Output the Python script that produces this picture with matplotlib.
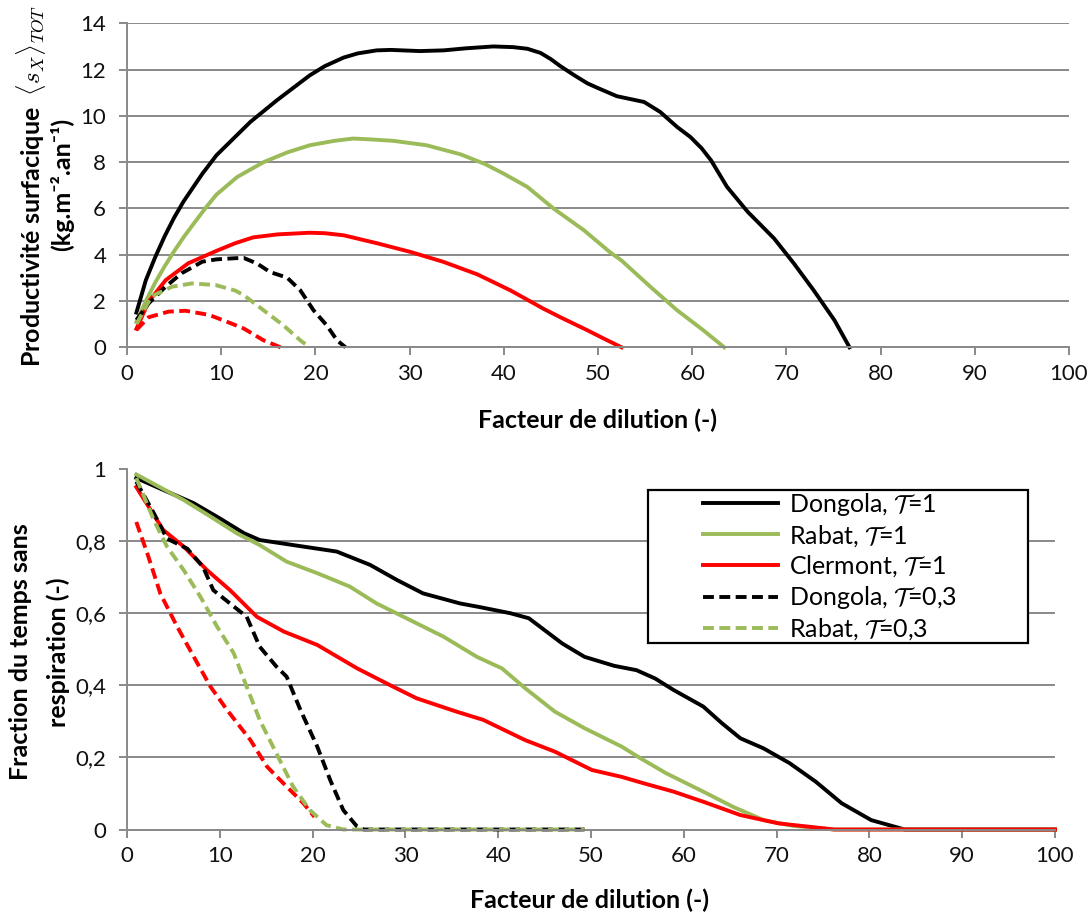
import matplotlib
matplotlib.use("Agg")
import matplotlib.pyplot as plt
from matplotlib.patches import Rectangle
from matplotlib.ticker import FuncFormatter

plt.rcParams['font.family'] = ['Lato', 'DejaVu Sans']
plt.rcParams['mathtext.fontset'] = 'cm'

BLACK = '#000000'
GREEN = '#9BBB59'
RED = '#FF0000'
GRID = '#898989'

# ---- top panel: surface productivity vs dilution factor ----
dong1_x = [1, 2, 3, 4, 5, 6, 7, 8, 9.5, 11, 13.1, 15.9, 19.4, 21, 23, 24.5, 26.5, 28, 31.1, 33.6, 36,
           38.9, 41, 42.5, 43.9, 45, 46, 47.5, 48.9, 50, 52, 54.9, 56.6, 58.4, 59.8, 61, 62, 63.7,
           65.9, 67, 68.7, 70.8, 72.9, 75.1, 76.7]
dong1_y = [1.5, 2.9, 3.9, 4.8, 5.6, 6.3, 6.9, 7.5, 8.3, 8.9, 9.74, 10.67, 11.75, 12.15, 12.52, 12.7,
           12.83, 12.85, 12.8, 12.83, 12.92, 13.0, 12.97, 12.9, 12.72, 12.45, 12.15, 11.75, 11.4, 11.2,
           10.85, 10.6, 10.17, 9.52, 9.09, 8.6, 8.08, 6.93, 5.85, 5.4, 4.7, 3.62, 2.46, 1.17, 0]

rab1_x = [1, 2, 3, 4, 5, 6, 7, 8.3, 9.5, 11.7, 14.5, 17, 19.4, 22, 24, 26, 28.3, 31.8, 35.4, 38, 40,
          42.5, 45.3, 48.5, 51.3, 52.5, 55.6, 58.4, 61.2, 63.4]
rab1_y = [1.1, 2.0, 2.8, 3.5, 4.15, 4.75, 5.3, 6.0, 6.6, 7.36, 8.0, 8.42, 8.73, 8.92, 9.02, 8.98, 8.92,
          8.73, 8.34, 7.92, 7.5, 6.93, 5.99, 5.06, 4.1, 3.75, 2.6, 1.6, 0.73, 0]

cler1_x = [1, 2.3, 4.1, 6.5, 9.4, 11.5, 13.4, 16, 19.4, 21, 23, 26.5, 30.1, 33.6, 37.2, 40.7, 44.2,
           46, 48.9, 50.5, 52.5]
cler1_y = [0.8, 1.97, 2.9, 3.63, 4.15, 4.5, 4.75, 4.88, 4.95, 4.93, 4.84, 4.5, 4.12, 3.69, 3.15, 2.46,
           1.67, 1.3, 0.73, 0.4, 0]

dong03_x = [1, 2.3, 4.1, 5.8, 8, 9.5, 11.5, 12.4, 13.8, 15.2, 17, 18.4, 19.8, 21.2, 22.3, 23.2]
dong03_y = [1.18, 1.9, 2.62, 3.2, 3.7, 3.8, 3.85, 3.86, 3.62, 3.25, 3.01, 2.46, 1.6, 0.95, 0.3, 0]

rab03_x = [1, 2.6, 4.8, 6.9, 9.4, 11.5, 12.4, 14.5, 16.6, 18.4, 19.4]
rab03_y = [1.0, 2.2, 2.62, 2.76, 2.69, 2.45, 2.25, 1.6, 0.95, 0.3, 0]

cler03_x = [1, 2.3, 4.4, 6.2, 8.7, 10.2, 11.5, 12.4, 14.5, 16.3]
cler03_y = [0.75, 1.3, 1.54, 1.58, 1.4, 1.17, 0.96, 0.81, 0.3, 0]

# ---- bottom panel: fraction of time without respiration ----
fdong1_x = [1, 3.9, 7.2, 10, 12.6, 14.3, 17.9, 22.6, 26.2, 29.1, 31.9, 35.9, 38, 41.3, 43.3, 46.9,
            49.3, 52.5, 54.9, 56.9, 58.9, 62.1, 64.1, 66.1, 68.6, 71.4, 74.2, 77, 80.2, 83.8, 100]
fdong1_y = [0.975, 0.942, 0.905, 0.863, 0.822, 0.803, 0.789, 0.771, 0.734, 0.692, 0.655, 0.627, 0.617,
            0.6, 0.586, 0.516, 0.479, 0.454, 0.442, 0.419, 0.387, 0.341, 0.295, 0.253, 0.225, 0.184,
            0.133, 0.073, 0.026, 0, 0]

frab1_x = [1, 6.1, 9, 11.8, 14.3, 17.2, 20.5, 24, 26.9, 30.5, 34.1, 37.7, 40.4, 42.9, 46.1, 49.3,
           53.3, 55.3, 58.1, 62.1, 65.3, 68.6, 71.8, 76.2, 100]
frab1_y = [0.985, 0.914, 0.868, 0.822, 0.789, 0.743, 0.711, 0.674, 0.627, 0.581, 0.535, 0.479, 0.447,
           0.392, 0.327, 0.281, 0.23, 0.198, 0.156, 0.105, 0.063, 0.026, 0.01, 0, 0]

fcler1_x = [1, 3.9, 6.1, 8.6, 11.1, 14, 16.9, 20.5, 24.8, 28.3, 31.2, 35.5, 38.4, 42.9, 46.1, 50.1,
            53.3, 55.7, 58.9, 62.1, 66.1, 70.2, 76.2, 100]
fcler1_y = [0.95, 0.831, 0.785, 0.72, 0.664, 0.59, 0.549, 0.512, 0.447, 0.401, 0.364, 0.327, 0.304,
            0.248, 0.216, 0.165, 0.146, 0.128, 0.105, 0.077, 0.04, 0.017, 0, 0]

fdong03_x = [1, 2.9, 4.3, 6.5, 8.2, 9.3, 11.1, 12.9, 14.3, 16.1, 17.2, 18.7, 20.5, 21.9, 23.3, 24.8,
             25.5, 49.3]
fdong03_y = [0.965, 0.877, 0.807, 0.779, 0.728, 0.664, 0.627, 0.59, 0.507, 0.452, 0.424, 0.331, 0.23,
             0.137, 0.054, 0.008, 0, 0]

frab03_x = [1, 2.9, 4.3, 6.1, 7.9, 9.7, 11.5, 12.9, 14.3, 16.1, 17.9, 19.7, 21.5, 23.3, 49.3]
frab03_y = [0.975, 0.858, 0.785, 0.72, 0.646, 0.563, 0.489, 0.396, 0.304, 0.211, 0.119, 0.054, 0.012,
            0, 0]

fcler03_x = [1, 2.2, 3.6, 5.4, 7.2, 9, 10.8, 13.3, 15.1, 17.2, 19, 20.2]
fcler03_y = [0.853, 0.765, 0.654, 0.563, 0.479, 0.396, 0.331, 0.248, 0.174, 0.119, 0.073, 0.035]

labels = [r'Dongola, $\mathcal{T}$=1', r'Rabat, $\mathcal{T}$=1', r'Clermont, $\mathcal{T}$=1',
          r'Dongola, $\mathcal{T}$=0,3', r'Rabat, $\mathcal{T}$=0,3']

LW = 2.8
DASH = (2.8, 1.4)
W, H = 1090, 913


def style_axes(ax, ymax, fmt):
    ax.set_xlim(0, 100)
    ax.set_ylim(0, ymax)
    ax.set_xticks(range(0, 101, 10))
    ax.yaxis.set_major_formatter(FuncFormatter(fmt))
    for s in ('top', 'right'):
        ax.spines[s].set_visible(False)
    for s in ('left', 'bottom'):
        ax.spines[s].set_color(GRID)
        ax.spines[s].set_linewidth(1.4)
    ax.tick_params(axis='both', colors=GRID, labelcolor='#111111', labelsize=16,
                   width=1.4, length=6, direction='out')
    ax.tick_params(axis='y', pad=9)
    ax.tick_params(axis='x', pad=6)
    ax.yaxis.grid(True, color=GRID, linewidth=1.4)
    ax.set_axisbelow(True)


def plot_line(ax, x, y, color, dashed=False):
    ls = (0, DASH) if dashed else '-'
    h, = ax.plot(x, y, color=color, lw=LW, ls=ls, clip_on=False,
                 solid_joinstyle='round', dash_joinstyle='round')
    return h


fig = plt.figure(figsize=(W / 100, H / 100), dpi=100)

ax1 = fig.add_axes([127 / W, 1 - 347.3 / H, 942 / W, 324 / H])
plot_line(ax1, dong1_x, dong1_y, BLACK)
plot_line(ax1, rab1_x, rab1_y, GREEN)
plot_line(ax1, cler1_x, cler1_y, RED)
plot_line(ax1, dong03_x, dong03_y, BLACK, True)
plot_line(ax1, rab03_x, rab03_y, GREEN, True)
plot_line(ax1, cler03_x, cler03_y, RED, True)
ax1.set_yticks(range(0, 15, 2))
style_axes(ax1, 14, lambda v, p: f'{v:g}')

ax2 = fig.add_axes([127 / W, 1 - 829.5 / H, 928 / W, 360.5 / H])
h1 = plot_line(ax2, fdong1_x, fdong1_y, BLACK)
h2 = plot_line(ax2, frab1_x, frab1_y, GREEN)
h3 = plot_line(ax2, fcler1_x, fcler1_y, RED)
h4 = plot_line(ax2, fdong03_x, fdong03_y, BLACK, True)
plot_line(ax2, fcler03_x, fcler03_y, RED, True)
h5 = plot_line(ax2, frab03_x, frab03_y, GREEN, True)
ax2.set_yticks([0, 0.2, 0.4, 0.6, 0.8, 1.0])
style_axes(ax2, 1, lambda v, p: f'{v:g}'.replace('.', ','))
ax2.get_ygridlines()[-1].set_visible(False)

# axis titles
lab = dict(fontsize=18, fontweight='bold', ha='center', va='center')
fig.text(597 / W, 1 - 420 / H, 'Facteur de dilution (-)', **lab)
fig.text(590 / W, 1 - 900 / H, 'Facteur de dilution (-)', **lab)
fig.text(31 / W, 1 - 186 / H, 'Productivité surfacique  $\\langle s_X \\rangle_{TOT}$',
         rotation=90, **lab)
fig.text(62 / W, 1 - 184 / H, '(kg.m⁻².an⁻¹)', rotation=90, **lab)
fig.text(21 / W, 1 - 652 / H, 'Fraction du temps sans', rotation=90, **lab)
fig.text(58 / W, 1 - 652 / H, 'respiration (-)', rotation=90, **lab)

# legend box
box = Rectangle((648 / W, 1 - 643 / H), 380 / W, 153 / H, transform=fig.transFigure,
                facecolor='white', edgecolor='black', linewidth=1.6, zorder=4)
fig.patches.append(box)
leg = fig.legend([h1, h2, h3, h4, h5], labels, loc='center',
                 bbox_to_anchor=(830 / W, 1 - 566.5 / H), fontsize=18, frameon=False,
                 handlelength=3.0, handletextpad=0.45, labelspacing=0.2, borderpad=0)
leg.set_zorder(5)

fig.savefig('out.png', dpi=100, facecolor='white')
